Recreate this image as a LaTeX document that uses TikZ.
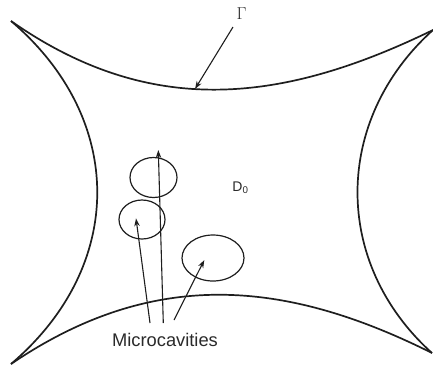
\documentclass[tikz,border=0pt]{standalone}
\usepackage{fontspec}
\setmainfont{Liberation Sans}
\usetikzlibrary{arrows.meta,shapes.geometric}
\definecolor{ink}{HTML}{1E1E1E}
\definecolor{txt}{HTML}{2A2A2A}
\tikzset{
  bound/.style={draw=ink, line width=1.7pt},
  cav/.style={draw=ink, line width=1.2pt, ellipse, inner sep=0pt},
  ptr/.style={draw=ink, line width=1.1pt, -{Stealth[length=8pt,width=5.5pt]}},
  lbl/.style={text=txt, inner sep=0pt}
}
\begin{document}
\begin{tikzpicture}[x=1pt,y=-1pt]
\useasboundingbox (0,0) rectangle (433,365);
% corners
\coordinate (tl) at (11,21);
\coordinate (tr) at (433,30);
\coordinate (bl) at (11,364);
\coordinate (br) at (432,353);
% boundary Gamma
\draw[bound] (tl) .. controls (151,119) and (283,103) .. (tr);
\draw[bound] (tl) .. controls (126,119) and (126,266) .. (bl);
\draw[bound] (tr) .. controls (333,120) and (332,263) .. (br);
\draw[bound] (bl) .. controls (151,269) and (282,278) .. (br);
% labels
\node[lbl, font=\fontsize{16}{18}\selectfont] (gamma) at (241.7,14) {$\Gamma$};
\coordinate (gs) at (233,27);
\coordinate (gt) at (195,89);
\draw[ptr] (gs) -- (gt);
\node[lbl, font=\fontsize{14}{16}\selectfont] (d0) at (240.5,188) {D\textsubscript{0}};
% microcavities
\node[cav, minimum width=47pt, minimum height=40pt] (c1) at (153.5,177.5) {};
\node[cav, minimum width=46pt, minimum height=39pt] (c2) at (142,219.5) {};
\node[cav, minimum width=62pt, minimum height=46pt] (c3) at (213,258) {};
\node[lbl, font=\fontsize{18.3}{20}\selectfont] (mc) at (165,340) {Microcavities};
\coordinate (s1) at (163.3,323);
\coordinate (s2) at (150,323);
\coordinate (s3) at (174,320);
\coordinate (t1) at (158.3,150);
\coordinate (t2) at (136,218.3);
\coordinate (t3) at (204.3,260);
\draw[ptr] (s1) -- (t1);
\draw[ptr] (s2) -- (t2);
\draw[ptr] (s3) -- (t3);
\end{tikzpicture}
\end{document}
